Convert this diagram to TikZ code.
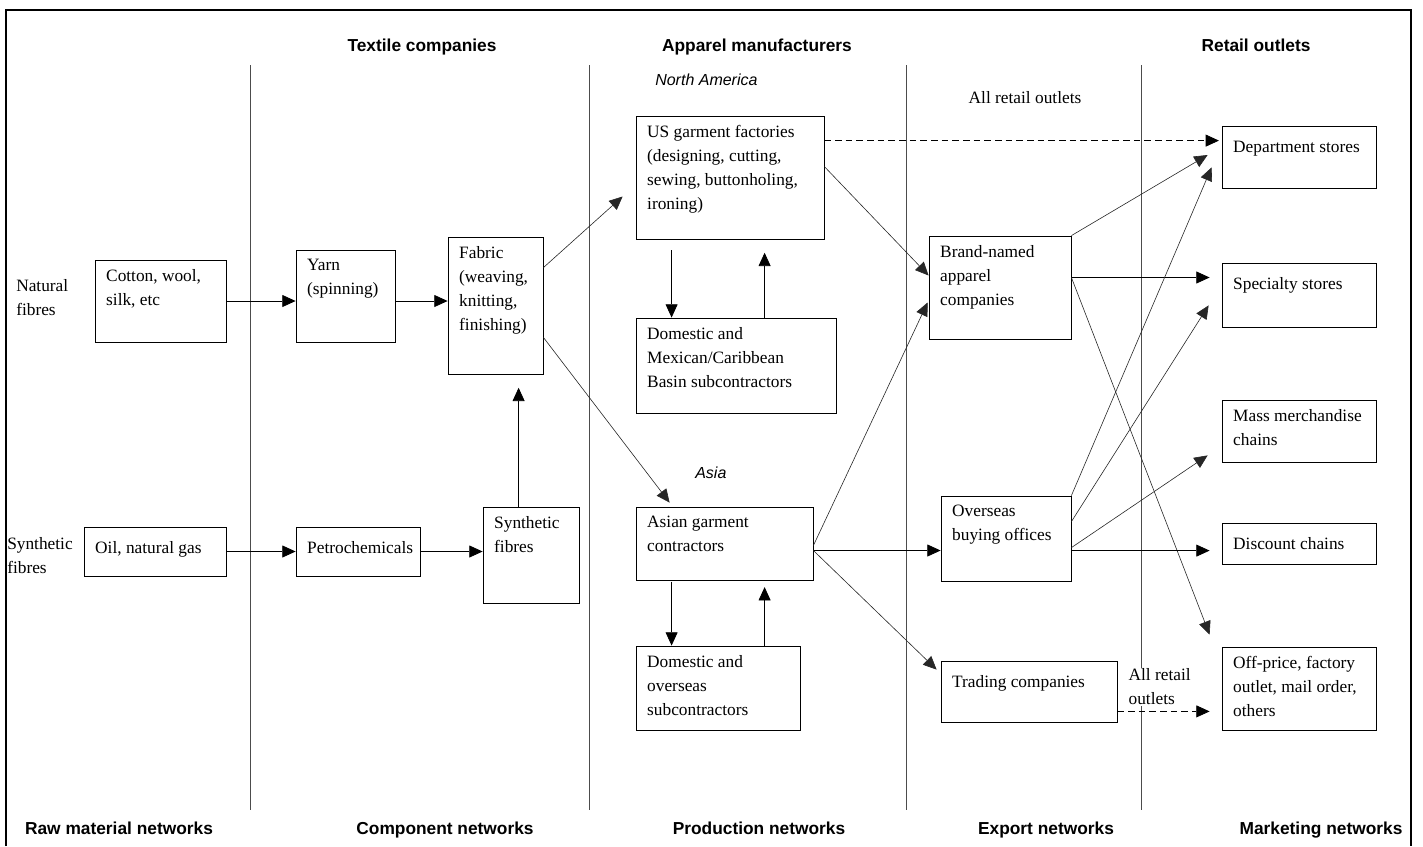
\documentclass[tikz,border=0pt]{standalone}
\usepackage{fontspec}
\setmainfont{Liberation Serif}
\newfontfamily\hdrfont{Liberation Sans}
\usetikzlibrary{arrows.meta, positioning, fit, calc}

\newcommand{\boxfont}{\fontsize{13}{18}\selectfont}
\newcommand{\hdrsize}{\hdrfont\bfseries\fontsize{13}{15}\selectfont}

\begin{document}
\begin{tikzpicture}[
  x=0.75pt, y=-0.75pt,
  box/.style={draw, line width=0.6pt, inner sep=0pt},
  btext/.style={anchor=north west, align=left, font=\boxfont, inner xsep=8.5pt,
                inner ysep=7pt, execute at begin node=\strut},
  hdr/.style={anchor=base, font=\hdrsize, inner sep=0pt},
  region/.style={anchor=base west, font=\hdrfont\itshape\fontsize{12}{14}\selectfont, inner sep=0pt},
  note/.style={font=\boxfont, inner sep=1pt},
  side/.style={anchor=west, align=left, font=\boxfont, inner sep=0pt},
  divider/.style={line width=0.6pt, black!70},
  arr/.style={-{Triangle[length=10pt, width=9pt]}, line width=0.6pt},
  thinarr/.style={arr, line width=0.45pt, black!85},
  dasharr/.style={arr, dashed, dash pattern=on 5pt off 3pt},
]

% --- frame and column dividers ---
\useasboundingbox (0,0) rectangle (1423,846);
\draw[line width=1.5pt] (6,846) -- (6,10) -- (1411,10) -- (1411,846);
\foreach \xd in {250, 589, 906, 1141}
  \draw[divider] (\xd,65) -- (\xd,810);

% --- column headers ---
\node[hdr] (hTextile) at (422,51) {Textile companies};
\node[hdr] (hApparel) at (757,51) {Apparel manufacturers};
\node[hdr] (hRetail) at (1256,51) {Retail outlets};
\node[region] (rNorthAm) at (655,85) {North America};
\node[region] (rAsia) at (695,478) {Asia};
\node[note, anchor=base] (allRetail) at (1025,103) {All retail outlets};

% --- network labels (bottom row) ---
\foreach \xl/\txt in {119/Raw material networks, 445/Component networks,
                      759/Production networks, 1046/Export networks,
                      1321/Marketing networks}
  \node[hdr] (net\xl) at (\xl,834) {\txt};

% --- raw material and textile boxes ---
\node[side] (lNatural) at (16,298) {Natural\\fibres};
\node[side] (lSynth) at (7,556) {Synthetic\\fibres};

\node[box, fit={(95,260) (226,342)},
      label={[btext]north west:{Cotton, wool,\\silk, etc}}] (cotton) {};
\node[box, fit={(296,250) (395,342)},
      label={[btext]north west:{Yarn\\(spinning)}}] (yarn) {};
\node[box, fit={(448,237) (543,374)},
      label={[btext]north west:{Fabric\\(weaving,\\knitting,\\finishing)}}] (fabric) {};
\node[box, fit={(84,527) (226,576)},
      label={[btext]north west:{Oil, natural gas}}] (oil) {};
\node[box, fit={(296,527) (420,576)},
      label={[btext]north west:{Petrochemicals}}] (petro) {};
\node[box, fit={(483,507) (579,603)},
      label={[btext]north west:{Synthetic\\fibres}}] (synfib) {};

% --- apparel manufacturers ---
\node[box, fit={(636,116) (824,239)},
      label={[btext]north west:{US garment factories\\(designing, cutting,\\sewing, buttonholing,\\ironing)}}] (us) {};
\node[box, fit={(636,318) (836,413)},
      label={[btext]north west:{Domestic and\\Mexican/Caribbean\\Basin subcontractors}}] (dommex) {};
\node[box, fit={(636,507) (813,580)},
      label={[btext]north west:{Asian garment\\contractors}}] (asian) {};
\node[box, fit={(636,646) (800,730)},
      label={[btext]north west:{Domestic and\\overseas\\subcontractors}}] (domov) {};

% --- export networks ---
\node[box, fit={(929,236) (1071,339)},
      label={[btext]north west:{Brand-named\\apparel\\companies}}] (brand) {};
\node[box, fit={(941,496) (1071,581)},
      label={[btext]north west:{Overseas\\buying offices}}] (overseas) {};
\node[box, fit={(941,661) (1117,722)},
      label={[btext]north west:{Trading companies}}] (trading) {};
\node[note, fill=white, anchor=west, align=left] (allRetail2) at (1127,687) {All retail\\outlets};

% --- retail outlets ---
\node[box, fit={(1222,126) (1376,188)},
      label={[btext]north west:{Department stores}}] (dept) {};
\node[box, fit={(1222,263) (1376,327)},
      label={[btext]north west:{Specialty stores}}] (spec) {};
\node[box, fit={(1222,400) (1376,462)},
      label={[btext]north west:{Mass merchandise\\chains}}] (mass) {};
\node[box, fit={(1222,523) (1376,564)},
      label={[btext]north west:{Discount chains}}] (discount) {};
\node[box, fit={(1222,647) (1376,730)},
      label={[btext]north west:{Off-price, factory\\outlet, mail order,\\others}}] (offprice) {};

% --- textile flows ---
\draw[arr] (cotton.east) -- (cotton.east -| yarn.west);
\draw[arr] (cotton.east -| yarn.east) -- (cotton.east -| fabric.west);
\draw[arr] (oil.east) -- (petro.west);
\draw[arr] (petro.east) -- (petro.east -| synfib.west);
\coordinate (synUp) at ($(synfib.north west)+(36,0)$);
\draw[arr, shorten >=10pt] (synUp) -- (synUp |- fabric.south);
\draw[thinarr] ($(fabric.north east)+(0,31)$) -- ($(us.west)+(-13,19)$);
\draw[thinarr] ($(fabric.south east)+(0,-37)$) -- ($(asian.north west)+(34,-4)$);

% --- subcontracting loops ---
\coordinate (usDn) at ($(us.south west)+(36,0)$);
\draw[arr, shorten <=8pt] (usDn) -- (usDn |- dommex.north);
\coordinate (usUp) at ($(dommex.north west)+(129,0)$);
\draw[arr, shorten >=10pt] (usUp) -- (usUp |- us.south);
\coordinate (asDn) at ($(asian.south west)+(36,0)$);
\draw[arr, shorten <=1pt] (asDn) -- (asDn |- domov.north);
\coordinate (asUp) at ($(domov.north west)+(129,0)$);
\draw[arr, shorten >=5pt] (asUp) -- (asUp |- asian.south);

% --- to export networks ---
\coordinate (usDash) at ($(us.north east)+(0,25)$);
\draw[dasharr, shorten >=2pt] (usDash) -- (usDash -| dept.west);
\draw[thinarr] ($(us.north east)+(0,51)$) -- ($(brand.west)+(0,-12)$);
\draw[thinarr] ($(asian.east)+(0,2)$) -- ($(brand.west)+(-1,15)$);
\coordinate (asMid) at ($(asian.east)+(0,7)$);
\draw[arr] (asMid) -- (asMid -| overseas.west);
\draw[thinarr] (asMid) -- ($(trading.north west)+(-4,9)$);

% --- to retail outlets ---
\draw[thinarr] (brand.north east) -- ($(dept.west)+(-14,-2)$);
\coordinate (brMid) at ($(brand.east)+(0,-10)$);
\draw[arr, shorten >=9pt] (brMid) -- (brMid -| spec.west);
\draw[thinarr] (brMid) -- ($(offprice.north west)+(-12,-12)$);
\draw[thinarr] (overseas.north east) -- ($(dept.south west)+(-10,-21)$);
\draw[thinarr] ($(overseas.north east)+(0,26)$) -- ($(spec.south west)+(-13,-22)$);
\draw[thinarr] ($(overseas.north east)+(0,52)$) -- ($(mass.south west)+(-14,-7)$);
\coordinate (ovMid) at ($(overseas.north east)+(0,55)$);
\draw[arr, shorten >=9pt] (ovMid) -- (ovMid -| discount.west);
\coordinate (trMid) at ($(trading.south east)+(0,-11)$);
\draw[dasharr, shorten >=9pt] (trMid) -- (trMid -| offprice.west);

\end{tikzpicture}
\end{document}
